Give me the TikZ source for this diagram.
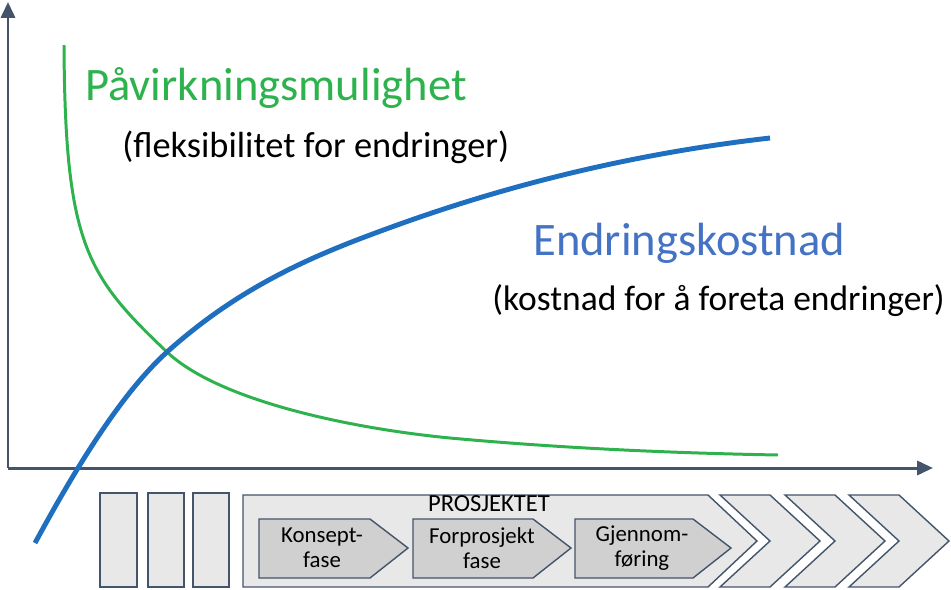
\documentclass[tikz,border=0pt]{standalone}
\usepackage{fontspec}
\setmainfont{Carlito}
\usetikzlibrary{arrows.meta,positioning}

\definecolor{axisgray}{HTML}{44546A}
\definecolor{curvegreen}{HTML}{2DB24D}
\definecolor{curveblue}{HTML}{1F6FC0}
\definecolor{titleblue}{HTML}{4472C4}
\definecolor{boxfill}{HTML}{E8E8E8}
\definecolor{phasefill}{HTML}{D0D0D0}

\begin{document}
\begin{tikzpicture}[x=0.02cm,y=-0.02cm]
\tikzstyle{axis} = [axisgray, line width=1.7pt, -{Triangle[width=8pt,length=9pt]}]
\tikzstyle{stagebox} = [draw=axisgray, fill=boxfill, line width=0.8pt, line join=miter]
\tikzstyle{phasebox} = [draw=axisgray, fill=phasefill, line width=0.8pt, line join=miter]
\tikzstyle{phasetext} = [font=\fontsize{13}{14.5}\selectfont, align=center, inner sep=0pt]
\useasboundingbox (0,0) rectangle (951,589);

\coordinate (origin) at (8,468);
\coordinate (ytip) at (8,2);
\coordinate (xtip) at (933,468);
\draw[axis] (origin) -- (ytip);
\draw[axis] (origin) -- (xtip);

% green curve
\draw[curvegreen, line width=1.7pt] (64,45) .. controls (65,245) and (87,276) .. (167,352)
  .. controls (220,402) and (356,429) .. (450,438)
  .. controls (559,448) and (669,453) .. (778,455);

% blue curve
\draw[curveblue, line width=2.8pt] (35,543) .. controls (79,462) and (123,392) .. (167,352)
  .. controls (245,282) and (322,252) .. (400,224)
  .. controls (523,180) and (647,152) .. (770,138);

\node[curvegreen, anchor=base west, inner sep=0pt, font=\fontsize{26.5}{30}\selectfont] (influence) at (85,100) {Påvirkningsmulighet};
\node[anchor=base west, inner sep=0pt, font=\fontsize{20.7}{24}\selectfont] (flex) at (122,157) {(fleksibilitet for endringer)};
\node[titleblue, anchor=base west, inner sep=0pt, font=\fontsize{26.5}{30}\selectfont] (cost) at (533,255) {Endringskostnad};
\node[anchor=base west, inner sep=0pt, font=\fontsize{20.2}{24}\selectfont] (costnote) at (492,310) {(kostnad for å foreta endringer)};

% stages before the project
\draw[stagebox] (100,493) rectangle (137,587);
\draw[stagebox] (148,493) rectangle (184,587);
\draw[stagebox] (193,493) rectangle (229,587);

% the project
\draw[stagebox] (243,495) -- (708,495) -- (757,541) -- (708,587) -- (243,587) -- cycle;
\node[phasetext, font=\fontsize{14}{15}\selectfont, anchor=base] (project) at (489,511) {PROSJEKTET};

% later stages
\foreach \x in {720,785,849}
  \draw[stagebox] (\x,495) -- (\x+50,495) -- (\x+100,541) -- (\x+50,587) -- (\x,587) -- (\x+50,541) -- cycle;

% phases
\draw[phasebox] (259,519) -- (370,519) -- (408,548) -- (370,578) -- (259,578) -- cycle;
\draw[phasebox] (413,519) -- (533,519) -- (571,548) -- (533,578) -- (413,578) -- cycle;
\draw[phasebox] (575,519) -- (693,519) -- (731,548) -- (693,578) -- (575,578) -- cycle;
\node[phasetext] (concept) at (322,548) {Konsept-\\fase};
\node[phasetext] (preproject) at (482,548) {Forprosjekt\\fase};
\node[phasetext] (execution) at (642,548) {Gjennom-\\føring};

\end{tikzpicture}
\end{document}
